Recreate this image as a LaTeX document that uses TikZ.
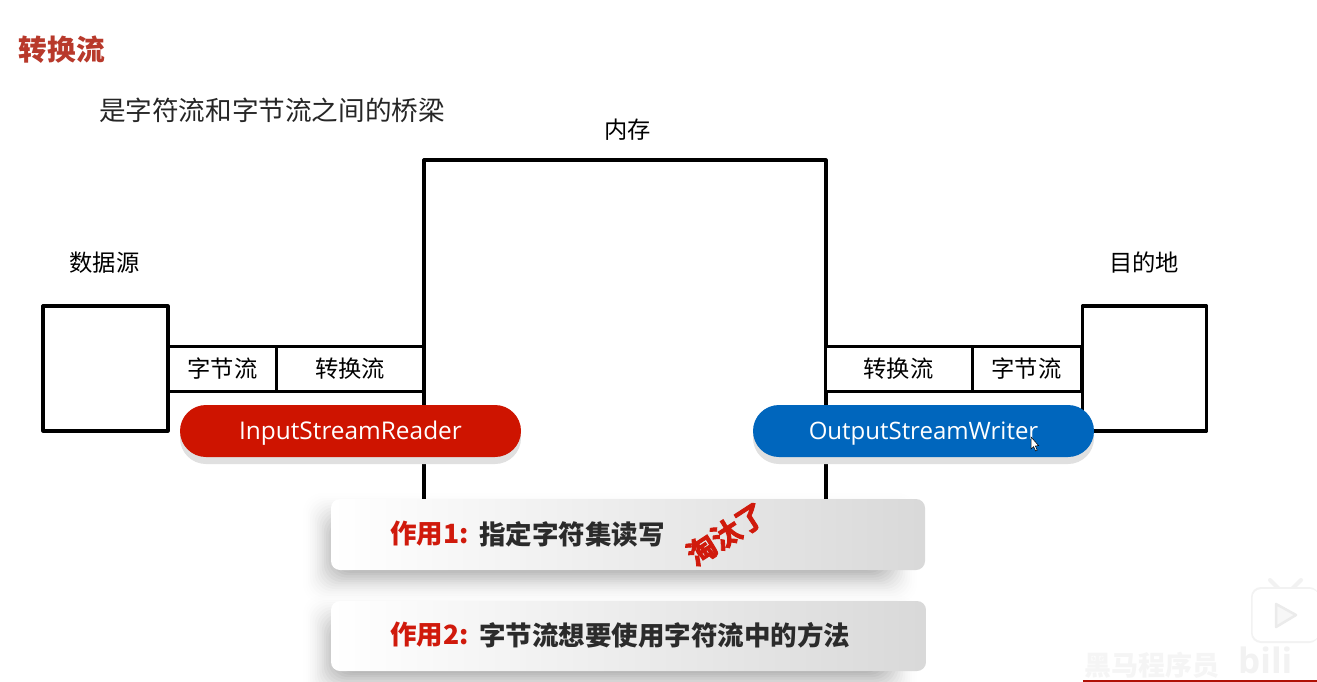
\documentclass[tikz,border=0pt]{standalone}
\usepackage{fontspec}
\newfontfamily\cjk{Noto Sans CJK SC}
\newfontfamily\cjkheavy[FakeBold=3]{Noto Sans CJK SC Bold}
\newfontfamily\pillfont{Open Sans}
\usetikzlibrary{calc}
\definecolor{titlered}{HTML}{B8392B}
\definecolor{pillred}{HTML}{CE1400}
\definecolor{pillblue}{HTML}{0066BD}
\definecolor{cardred}{HTML}{D01A0C}
\definecolor{cardink}{HTML}{2B2B2B}
\definecolor{stripred}{HTML}{B01005}
\tikzset{
  x=1pt,y=-1pt,
  line/.style={line width=3.2pt,line cap=round,line join=round,draw=black},
  boxnode/.style={draw=black,line width=3.2pt,line join=round,fill=white,inner sep=0pt,outer sep=0pt,anchor=north west},
  cellnode/.style={draw=black,line width=3pt,fill=white,inner sep=0pt,outer sep=0pt,font=\cjk\fontsize{23.3}{23}\selectfont,anchor=north west},
  label/.style={inner sep=0pt,font=\cjk\fontsize{23.3}{23}\selectfont,text=black},
  pill/.style={rounded corners=26pt,inner sep=0pt,outer sep=0pt,anchor=north west,minimum height=52pt,minimum width=341pt,text=white,font=\pillfont\fontsize{24.4}{24}\selectfont},
  cardtext/.style={inner sep=0pt,anchor=west,font=\cjk\bfseries\fontsize{26.5}{27}\selectfont,text=cardink},
}
\newcommand{\softshadow}[4]{%
  \foreach \k in {1,...,16}{
    \pgfmathsetmacro{\gx}{(17-\k)*2.3}
    \pgfmathsetmacro{\ga}{0.0026*\k}
    \fill[black,opacity=\ga,rounded corners=18pt]
      ({#1-\gx},{#2-\gx}) rectangle ({#3+\gx},{#4+\gx});
  }}
\begin{document}
\begin{tikzpicture}
\useasboundingbox (0,0) rectangle (1317,682);
\fill[white] (0,0) rectangle (1317,682);

% memory: open bottom box
\coordinate (mbl) at (424,505);
\coordinate (mtl) at (424,160);
\coordinate (mtr) at (826,160);
\coordinate (mbr) at (826,505);
\draw[line] (mbl) -- (mtl) -- (mtr) -- (mbr);

% source and destination
\node[boxnode,minimum width=125pt,minimum height=125pt] (src) at (43,306) {};
\node[boxnode,minimum width=124pt,minimum height=125pt] (dst) at (1082.5,306) {};

% stream cells
\node[cellnode,minimum width=108pt,minimum height=45pt] (c1) at (168.5,346) {字节流};
\node[cellnode,minimum width=147pt,minimum height=45pt] (c2) at (276.5,346) {转换流};
\node[cellnode,minimum width=147pt,minimum height=45pt] (c3) at (825,346) {转换流};
\node[cellnode,minimum width=109pt,minimum height=45pt] (c4) at (972,346) {字节流};

% texts
\node[inner sep=0pt,font=\cjk\bfseries\fontsize{28.7}{29}\selectfont,text=titlered] (title) at (62,50) {转换流};
\node[label,font=\cjk\fontsize{26.6}{27}\selectfont,text=black!85] (sub) at (272,110) {是字符流和字节流之间的桥梁};
\node[label] (mem) at (627.5,130) {内存};
\node[label] (srcl) at (104.5,262.5) {数据源};
\node[label] (dstl) at (1144,262.5) {目的地};

% pills
\fill[black!12,rounded corners=26pt] (180,411) rectangle (521,464);
\fill[black!12,rounded corners=26pt] (753,411) rectangle (1094,464);
\node[pill,fill=pillred] (pr) at (180,405) {\raisebox{0pt}[16pt][0pt]{InputStreamReader}};
\node[pill,fill=pillblue,font=\pillfont\fontsize{24}{24}\selectfont] (pb) at (753,405) {\raisebox{0pt}[16pt][0pt]{OutputStreamWriter}};

% cursor
\filldraw[fill=white,draw=black,line width=.5pt] (1031,437) -- (1031,449) -- (1033.6,446.6) -- (1035.6,451) -- (1037.2,450.2) -- (1035.4,446) -- (1038.6,445.6) -- cycle;

% cards
\softshadow{340}{530}{880}{566}
\softshadow{340}{632}{880}{668}
\node[minimum width=594pt,minimum height=71pt,inner sep=0pt,outer sep=0pt,anchor=north west,rounded corners=9pt,left color=white,right color=black!15] (card1) at (331,499) {};
\node[minimum width=595pt,minimum height=70pt,inner sep=0pt,outer sep=0pt,anchor=north west,rounded corners=9pt,left color=white,right color=black!15] (card2) at (331,601) {};
\node[cardtext,text=cardred] (k1) at (390,534) {作用1:};
\node[cardtext] (t1) at (479,534) {指定字符集读写};
\node[cardtext,text=cardred] (k2) at (390,635) {作用2:};
\node[cardtext] (t2) at (479,635) {字节流想要使用字符流中的方法};
\node[inner sep=0pt,rotate=33,text=cardred,font=\cjkheavy\fontsize{29}{29}\selectfont] (stamp) at (726,534) {淘汰了};

% watermark
\fill[black!5,rounded corners=10pt] (1251,587) rectangle (1319,643);
\draw[black!5,line width=4pt,line cap=round] (1270,580) -- (1279,589) (1301,580) -- (1292,589);
\fill[white,rounded corners=9pt] (1252.5,589) rectangle (1319,641);
\draw[black!8,line width=2.5pt,line join=round,fill=black!3] (1276,604) -- (1296,615) -- (1276,627) -- cycle;
\node[inner sep=0pt,anchor=west,text=black!4,font=\cjk\bfseries\fontsize{27}{27}\selectfont] (wm) at (1084,665) {黑马程序员};
\node[inner sep=0pt,anchor=west,text=black!5,font=\pillfont\bfseries\fontsize{35}{35}\selectfont] (bili) at (1238,660) {bili};
\fill[stripred] (1083,680) rectangle (1317,682);
\end{tikzpicture}
\end{document}
